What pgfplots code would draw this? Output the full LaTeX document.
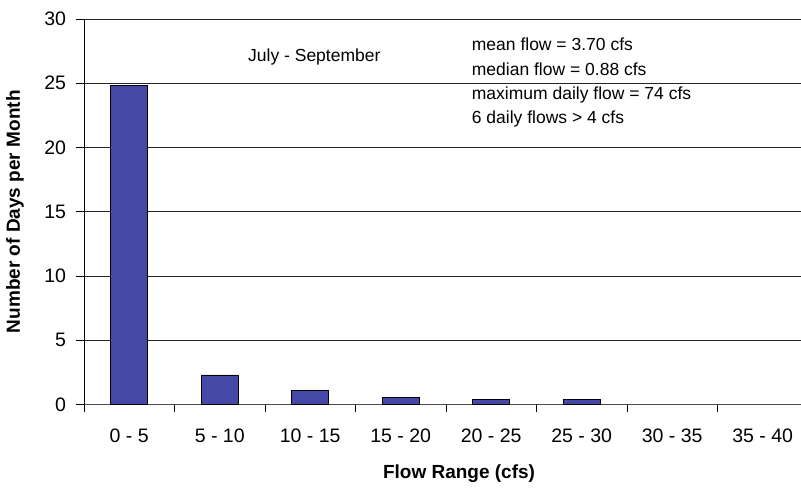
\documentclass[border=0pt]{standalone}
\usepackage{fontspec}
\setmainfont{Liberation Sans}
\usepackage{pgfplots}
\pgfplotsset{compat=1.18}
\definecolor{barblue}{RGB}{70,72,168}
\newcommand{\tickfont}{\fontsize{19.5}{22}\selectfont}
\newcommand{\notefont}{\fontsize{17.5}{20}\selectfont}
\newcommand{\labfont}{\fontsize{19}{22}\selectfont\bfseries}
\begin{document}
\begin{tikzpicture}
\useasboundingbox (-84pt,-85.5pt) rectangle (717pt,404.5pt);
\begin{axis}[
    scale only axis,
    width=724pt, height=385.5pt,
    xmin=-0.5, xmax=7.5, ymin=0, ymax=30,
    axis x line*=bottom, axis y line*=left,
    ybar, bar width=37pt,
    xtick={-0.5,0.5,...,6.5},
    xticklabels={0 - 5, 5 - 10, 10 - 15, 15 - 20, 20 - 25, 25 - 30, 30 - 35, 35 - 40},
    xticklabel style={xshift=45.25pt, yshift=-13pt, font=\tickfont},
    ytick={0,5,...,30},
    yticklabel style={xshift=-7pt, font=\tickfont},
    /pgf/number format/assume math mode=true,
    tick align=outside, major tick length=7.5pt,
    tick style={black, line width=0.8pt},
    ymajorgrids, grid style={black!85, line width=0.8pt},
    x axis line style={black!70, line width=1.5pt},
    y axis line style={black, line width=0.8pt},
    xlabel={Flow Range (cfs)},
    ylabel={Number of Days per Month},
    xlabel style={font=\labfont, at={(axis description cs:0.518,-0.18)}, anchor=center},
    ylabel style={font=\labfont, at={(axis description cs:-0.0953,0.5)}, anchor=center, rotate=0},
  ]
  \addplot[fill=barblue, draw=black, line width=0.7pt, bar shift=0pt]
    coordinates {(0,24.8) (1,2.3) (2,1.07) (3,0.53) (4,0.4) (5,0.4)};
  \node[anchor=base west, font=\notefont, inner sep=0pt] at (axis cs:1.312,26.68) {July - September};
  \node[anchor=base west, font=\notefont, inner sep=0pt] at (axis cs:3.784,27.53) {mean flow = 3.70 cfs};
  \node[anchor=base west, font=\notefont, inner sep=0pt] at (axis cs:3.784,25.64) {median flow = 0.88 cfs};
  \node[anchor=base west, font=\notefont, inner sep=0pt] at (axis cs:3.784,23.75) {maximum daily flow = 74 cfs};
  \node[anchor=base west, font=\notefont, inner sep=0pt] at (axis cs:3.784,21.83) {6 daily flows > 4 cfs};
\end{axis}
\end{tikzpicture}
\end{document}
